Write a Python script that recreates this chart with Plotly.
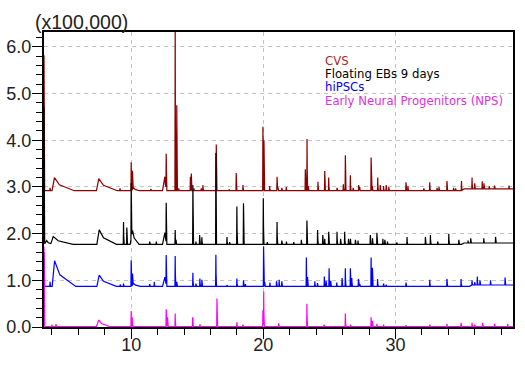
import numpy as np
import plotly.graph_objects as go

# ---------------- data (retention time in min, intensity in x100,000) ----------------
series_names = ["CVS", "Floating EBs 9 days", "hiPSCs", "Early Neural Progenitors (NPS)"]

# CVS
cvs_base_t = [3.40, 35.0, 35.2, 38.9]
cvs_base_v = [2.92, 2.92, 2.96, 2.96]
cvs_spike_t = [3.40, 3.86, 9.15, 10.00, 10.10, 11.49, 12.65, 13.33, 13.45, 13.60, 14.48, 14.55, 14.75,
               15.30, 15.43, 16.44, 17.42, 17.95, 18.46, 19.97, 20.05, 20.48, 21.04, 21.10, 21.40,
               21.74, 23.18, 23.31, 23.40, 24.14, 24.65, 24.95, 25.58, 26.06, 26.21, 26.59, 26.80,
               27.22, 27.30, 28.16, 28.25, 28.66, 28.85, 29.10, 29.30, 29.50, 30.80, 30.95, 32.15,
               32.60, 33.15, 33.30, 33.90, 34.40, 34.55, 35.00, 35.80, 36.00, 36.57, 36.70, 37.10,
               37.50, 38.60]
cvs_spike_h = [2.90, 0.06, 0.05, 0.61, 0.40, 0.04, 0.73, 3.70, 1.83, 0.05, 0.30, 0.37, 0.05,
               0.05, 0.12, 0.99, 0.03, 0.38, 0.12, 1.37, 1.08, 0.10, 0.30, 0.18, 0.06,
               0.08, 0.46, 1.11, 0.10, 0.19, 0.42, 0.28, 0.06, 0.14, 0.76, 0.33, 0.06,
               0.12, 0.08, 0.71, 0.10, 0.28, 0.12, 0.10, 0.12, 0.08, 0.18, 0.10, 0.05,
               0.18, 0.06, 0.08, 0.21, 0.06, 0.05, 0.21, 0.24, 0.12, 0.16, 0.12, 0.06,
               0.07, 0.07]
cvs_hump_t = [4.19, 7.55, 10.20, 12.55]
cvs_hump_h = [0.28, 0.26, 0.06, 0.30]
cvs_hump_w = [1.50, 1.40, 0.40, 0.15]

# Floating EBs 9 days
ebs_base_t = [3.40, 35.0, 35.2, 38.9]
ebs_base_v = [1.77, 1.77, 1.80, 1.80]
ebs_spike_t = [3.40, 9.42, 9.67, 10.00, 11.40, 11.90, 12.65, 13.33, 13.40, 14.67, 14.90, 15.18,
               15.35, 16.41, 17.25, 17.45, 18.00, 18.50, 20.00, 20.30, 21.04, 21.40, 21.75, 22.30,
               22.88, 23.30, 24.11, 24.50, 24.65, 24.95, 25.58, 25.85, 26.16, 26.45, 26.60, 26.97,
               27.17, 28.10, 28.27, 28.60, 29.05, 29.20, 29.40, 30.10, 30.88, 32.27, 32.65, 33.20,
               34.04, 34.80, 35.50, 35.70, 36.69, 37.58]
ebs_spike_h = [2.94, 0.48, 0.36, 1.18, 0.06, 0.06, 0.84, 0.31, 0.10, 1.27, 0.06, 0.20,
               0.15, 1.96, 0.16, 0.05, 0.81, 0.88, 0.99, 0.05, 0.48, 0.08, 0.06, 0.05,
               0.10, 0.51, 0.31, 0.20, 0.12, 0.27, 0.27, 0.12, 0.27, 0.12, 0.12, 0.10,
               0.08, 0.20, 0.13, 0.25, 0.12, 0.10, 0.06, 0.04, 0.16, 0.16, 0.20, 0.06,
               0.23, 0.10, 0.05, 0.10, 0.10, 0.13]
ebs_hump_t = [3.60, 4.10, 7.58, 10.10, 12.55]
ebs_hump_h = [0.08, 0.17, 0.31, 0.30, 0.25]
ebs_hump_w = [0.50, 1.50, 1.30, 0.50, 0.15]

# hiPSCs
ips_base_t = [3.40, 35.6, 35.8, 38.9]
ips_base_v = [0.87, 0.87, 0.90, 0.90]
ips_spike_t = [3.40, 3.86, 9.17, 9.42, 10.00, 10.10, 11.40, 11.75, 12.65, 13.33, 13.45, 14.67,
               14.90, 15.20, 15.35, 16.41, 17.25, 18.00, 18.50, 18.65, 20.02, 20.10, 20.50, 21.00,
               21.20, 21.40, 23.26, 23.35, 23.90, 24.10, 24.62, 24.75, 24.98, 25.10, 25.56, 25.96,
               26.21, 26.59, 26.70, 27.20, 27.30, 28.16, 28.26, 28.65, 29.10, 29.30, 30.80, 32.60,
               33.90, 34.97, 35.80, 36.00, 36.20, 36.40, 37.20, 38.30]
ips_spike_h = [0.73, 0.10, 0.04, 0.06, 0.56, 0.25, 0.05, 0.10, 0.63, 0.65, 0.10, 0.29,
               0.06, 0.17, 0.14, 0.68, 0.03, 0.17, 0.13, 0.05, 0.86, 0.10, 0.08, 0.11,
               0.14, 0.11, 0.62, 0.20, 0.11, 0.07, 0.21, 0.12, 0.39, 0.12, 0.08, 0.18,
               0.39, 0.39, 0.18, 0.16, 0.05, 0.62, 0.40, 0.16, 0.06, 0.04, 0.08, 0.14,
               0.16, 0.16, 0.10, 0.06, 0.18, 0.10, 0.10, 0.16]
ips_hump_t = [4.20, 7.58, 10.20, 12.55]
ips_hump_h = [0.55, 0.24, 0.06, 0.20]
ips_hump_w = [1.60, 1.30, 0.50, 0.15]

# Early Neural Progenitors (NPS)
nps_base_t = [3.40, 38.9]
nps_base_v = [0.01, 0.01]
nps_spike_t = [3.40, 4.00, 4.30, 10.00, 10.08, 12.65, 12.75, 13.33, 14.65, 15.20, 16.49, 18.00,
               18.45, 19.97, 20.03, 21.16, 23.30, 24.60, 26.21, 26.60, 28.16, 28.26, 28.60, 29.10,
               30.80, 32.60, 33.90, 34.97, 35.80, 36.00, 36.60, 37.50, 38.50]
nps_spike_h = [1.71, 0.04, 0.05, 0.33, 0.20, 0.37, 0.20, 0.28, 0.20, 0.05, 0.60, 0.09,
               0.04, 0.35, 0.75, 0.07, 0.49, 0.04, 0.28, 0.04, 0.20, 0.12, 0.06, 0.04,
               0.03, 0.04, 0.06, 0.08, 0.08, 0.04, 0.08, 0.06, 0.06]
nps_hump_t = [7.55]
nps_hump_h = [0.14]
nps_hump_w = [0.80]

x_range = [3.4, 38.9]
y_range = [0, 6.32]
x_tick_vals = [10, 20, 30]
y_tick_vals = [0, 1, 2, 3, 4, 5, 6]
y_tick_text = ["0.0", "1.0", "2.0", "3.0", "4.0", "5.0", "6.0"]

colors = ["#8b0000", "#000000", "#0000ff", "#ff00ff"]
text_colors = ["#a52a2a", "#000000", "#0000ff", "#e030e0"]


def build(base_t, base_v, spike_t, spike_h, hump_t, hump_h, hump_w):
    shapes = []
    for t, h in zip(spike_t, spike_h):
        shapes.append(([t - 0.02, t, t + 0.015, t + 0.05], [0, h, 0.4 * h, 0]))
    for t, h, w in zip(hump_t, hump_h, hump_w):
        shapes.append(([t - 0.18, t, t + 0.25 * w, t + w], [0, h, 0.45 * h, 0]))
    pts = set(base_t)
    for sx, _ in shapes:
        pts.update(sx)
    grid = np.array(sorted(p for p in pts if x_range[0] <= p <= x_range[1]))
    y = np.interp(grid, base_t, base_v)
    for sx, sy in shapes:
        y = y + np.interp(grid, sx, sy, left=0, right=0)
    return grid, y


series = [
    build(cvs_base_t, cvs_base_v, cvs_spike_t, cvs_spike_h, cvs_hump_t, cvs_hump_h, cvs_hump_w),
    build(ebs_base_t, ebs_base_v, ebs_spike_t, ebs_spike_h, ebs_hump_t, ebs_hump_h, ebs_hump_w),
    build(ips_base_t, ips_base_v, ips_spike_t, ips_spike_h, ips_hump_t, ips_hump_h, ips_hump_w),
    build(nps_base_t, nps_base_v, nps_spike_t, nps_spike_h, nps_hump_t, nps_hump_h, nps_hump_w),
]

fig = go.Figure()
for name, (gx, gy), c in zip(series_names, series, colors):
    fig.add_trace(go.Scatter(x=gx, y=gy, mode="lines", name=name,
                             line=dict(color=c, width=1.2), showlegend=False,
                             hoverinfo="skip"))

tick_font = dict(family="Liberation Sans, Arial, sans-serif", size=18, color="#222222")
fig.update_layout(
    width=525, height=366,
    margin=dict(l=44, r=12, t=32, b=39),
    paper_bgcolor="white", plot_bgcolor="white",
    xaxis=dict(range=x_range, tickvals=x_tick_vals, ticks="outside", ticklen=10, tickwidth=1.2,
               tickcolor="black", showline=True, mirror=True, linecolor="black", linewidth=2,
               showgrid=True, gridcolor="#c4c4c4", griddash="4px,4px", gridwidth=1,
               zeroline=False, tickfont=tick_font, layer="below traces", automargin=False,
               ticklabelstandoff=-10,
               minor=dict(dtick=2, tick0=0, ticks="outside", ticklen=6, tickwidth=1.2,
                          tickcolor="black", showgrid=False)),
    yaxis=dict(range=y_range, tickvals=y_tick_vals, ticktext=y_tick_text, ticks="outside",
               ticklen=10, tickwidth=1.2, tickcolor="black", showline=True, mirror=True,
               linecolor="black", linewidth=2, showgrid=True, gridcolor="#c4c4c4",
               griddash="4px,4px", gridwidth=1, zeroline=False, tickfont=tick_font,
               layer="below traces", automargin=False, ticklabelstandoff=-3,
               minor=dict(dtick=0.2, tick0=0, ticks="outside", ticklen=6, tickwidth=1.2,
                          tickcolor="black", showgrid=False)),
)

fig.add_annotation(text="(x100,000)", xref="paper", yref="paper", x=-0.024, y=1.034,
                   xanchor="left", yanchor="middle", showarrow=False,
                   font=dict(family="Liberation Sans, Arial, sans-serif", size=19.5, color="#222222"))

label_y = [0.900, 0.856, 0.812, 0.766]
for name, tc, ly in zip(series_names, text_colors, label_y):
    fig.add_annotation(text=name, xref="paper", yref="paper", x=0.595, y=ly,
                       xanchor="left", yanchor="middle", showarrow=False,
                       font=dict(family="DejaVu Sans, Verdana, sans-serif", size=11.7, color=tc))

# remove the browser's default 8px body margin so the figure fills the window exactly
fig.write_html("out.html", config={"displayModeBar": False},
               post_script="document.body.style.margin='0px';document.body.style.overflow='hidden';")
